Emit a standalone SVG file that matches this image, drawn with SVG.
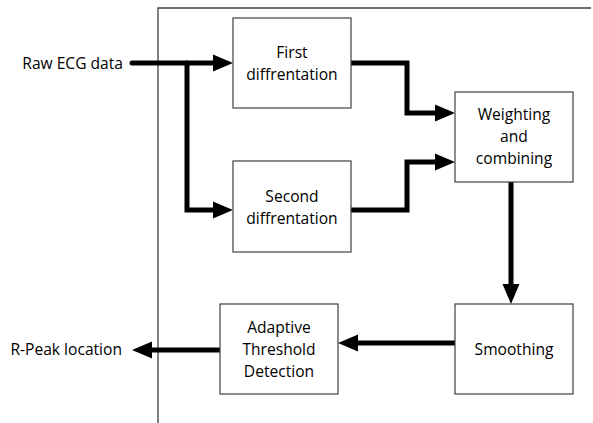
<svg xmlns="http://www.w3.org/2000/svg" width="593" height="423" viewBox="0 0 593 423">
<style>
.box{fill:#fff;stroke:#404040;stroke-width:1.2}
.frame{fill:none;stroke:#404040;stroke-width:1.3}
.conn{fill:none;stroke:#000;stroke-width:5;stroke-linecap:round;stroke-linejoin:miter}
text{font-family:"Open Sans","Liberation Sans",Arial,sans-serif;font-size:15.6px;fill:#000}
.c{text-anchor:middle}
.e{text-anchor:end}
</style>
<defs>
<marker id="ah" markerUnits="userSpaceOnUse" markerWidth="20" markerHeight="18" refX="10" refY="9" orient="auto" viewBox="0 0 20 18">
<path d="M0,0.5 L20,9 L0,17.5 z" fill="#000"/>
</marker>
</defs>
<g id="frame">
<path class="frame" d="M158,423 V8 H591"/>
</g>
<g id="connectors">
<path class="conn" d="M132,63 H223" marker-end="url(#ah)"/>
<path class="conn" d="M187,63 V210 H223" marker-end="url(#ah)"/>
<path class="conn" d="M351,63 H407 V113 H445" marker-end="url(#ah)"/>
<path class="conn" d="M351,210 H407 V162 H445" marker-end="url(#ah)"/>
<path class="conn" d="M511,182 V294" marker-end="url(#ah)"/>
<path class="conn" d="M455,343 H348" marker-end="url(#ah)"/>
<path class="conn" d="M220,350 H142" marker-end="url(#ah)"/>
</g>
<g id="input">
<text class="e" x="123" y="69">Raw ECG data</text>
</g>
<g id="output">
<text class="e" x="122" y="355">R-Peak location</text>
</g>
<g id="first">
<rect class="box" x="233" y="18" width="118" height="90"/>
<text class="c" x="292" y="58">First</text>
<text class="c" x="292" y="80">diffrentation</text>
</g>
<g id="second">
<rect class="box" x="233" y="161" width="118" height="91"/>
<text class="c" x="292" y="202">Second</text>
<text class="c" x="292" y="224">diffrentation</text>
</g>
<g id="weighting">
<rect class="box" x="455" y="92" width="118" height="90"/>
<text class="c" x="514" y="120">Weighting</text>
<text class="c" x="514" y="142">and</text>
<text class="c" x="514" y="164">combining</text>
</g>
<g id="smoothing">
<rect class="box" x="455" y="304" width="118" height="90"/>
<text class="c" x="514" y="355">Smoothing</text>
</g>
<g id="adaptive">
<rect class="box" x="220" y="304" width="118" height="90"/>
<text class="c" x="279" y="333">Adaptive</text>
<text class="c" x="279" y="355">Threshold</text>
<text class="c" x="279" y="377">Detection</text>
</g>
</svg>
